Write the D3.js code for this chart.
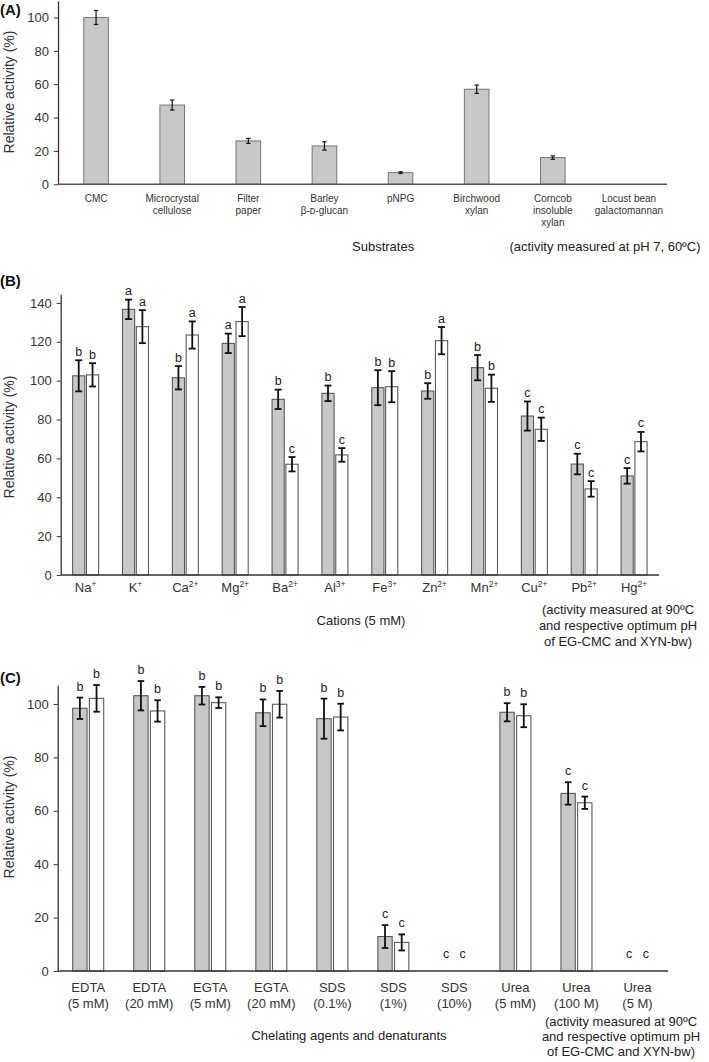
<!DOCTYPE html>
<html>
<head>
<meta charset="utf-8">
<script src="https://cdn.jsdelivr.net/npm/d3@7"></script>
<style>
  body { margin: 0; background: #fff; }
  svg { display: block; font-family: "Liberation Sans", Arial, sans-serif; }
</style>
</head>
<body>
<svg id="chart" width="709" height="1062"></svg>
<script>
// ---------- DATA ----------
const substrateLabels = [["CMC"], ["Microcrystal", "cellulose"], ["Filter", "paper"], ["Barley", "β-ᴅ-glucan"], ["pNPG"], ["Birchwood", "xylan"], ["Corncob", "insoluble", "xylan"], ["Locust bean", "galactomannan"]];
const substrateValues = [100, 47.5, 26, 23, 7, 57, 16, 0];
const substrateErrors = [4.2, 3, 1.5, 2.5, 0.5, 2.5, 1, 0];
const substrateTicks = [0, 20, 40, 60, 80, 100];

const cationNames = ["Na", "K", "Ca", "Mg", "Ba", "Al", "Fe", "Zn", "Mn", "Cu", "Pb", "Hg"];
const cationCharges = ["+", "+", "2+", "2+", "2+", "3+", "3+", "2+", "2+", "2+", "2+", "2+"];
const cationEgCmc = [102.5, 136.7, 101.5, 119.2, 90.4, 93.5, 96.4, 94.7, 106.7, 81.8, 57.1, 51];
const cationEgCmcErr = [8, 5, 6, 5, 5, 4, 9, 4, 6.5, 7.5, 5.3, 4];
const cationXyn = [103, 127.8, 123.5, 130.4, 57, 61.8, 96.9, 120.6, 96.1, 75, 44.3, 68.6];
const cationXynErr = [6, 8.5, 7, 7.5, 3.7, 3.5, 8, 7, 7, 6, 4, 5];
const cationEgCmcLetters = ["b", "a", "b", "a", "b", "b", "b", "b", "b", "c", "c", "c"];
const cationXynLetters = ["b", "a", "a", "a", "c", "c", "b", "a", "b", "c", "c", "c"];
const cationTicks = [0, 20, 40, 60, 80, 100, 120, 140];

const agentLabels = [["EDTA", "(5 mM)"], ["EDTA", "(20 mM)"], ["EGTA", "(5 mM)"], ["EGTA", "(20 mM)"], ["SDS", "(0.1%)"], ["SDS", "(1%)"], ["SDS", "(10%)"], ["Urea", "(5 mM)"], ["Urea", "(100 M)"], ["Urea", "(5 M)"]];
const agentEgCmc = [98.4, 103.1, 103.1, 96.7, 94.5, 12.9, 0, 96.9, 66.5, 0];
const agentEgCmcErr = [4, 5.5, 3.3, 5, 7.5, 4.3, 0, 3.4, 4.2, 0];
const agentXyn = [102.1, 97.4, 100.5, 99.9, 95.1, 10.7, 0, 95.6, 63, 0];
const agentXynErr = [5, 4, 2, 5, 5, 3, 0, 4.3, 2.3, 0];
const agentEgCmcLetters = ["b", "b", "b", "b", "b", "c", "c", "b", "c", "c"];
const agentXynLetters = ["b", "b", "b", "b", "b", "c", "c", "b", "c", "c"];
const agentTicks = [0, 20, 40, 60, 80, 100];

const noteLines = ["(activity measured at 90ºC", "and respective optimum pH", "of EG-CMC and XYN-bw)"];

// ---------- DRAWING ----------
const svg = d3.select("#chart");
svg.append("rect").attr("width", 709).attr("height", 1062).attr("fill", "#fff");

const GRAY = "#c8c8c8", STROKE = "#5a5a5a", TEXT = "#333";

function yAxis(g, y, ticks, x0) {
  const ax = g.append("g").attr("transform", `translate(${x0},0)`)
    .call(d3.axisLeft(y).tickValues(ticks).tickSize(4).tickPadding(5).tickSizeOuter(0));
  ax.select(".domain").attr("stroke", "#333").attr("stroke-width", 1.3);
  ax.selectAll(".tick line").attr("stroke", "#333");
  ax.selectAll(".tick text").attr("font-size", 13).attr("fill", TEXT).attr("font-family", "Liberation Sans, Arial, sans-serif");
}

function errBar(g, cx, y, v, e, cap, w) {
  if (e <= 0) return;
  const gg = g.append("g").attr("stroke", "#111").attr("stroke-width", w);
  gg.append("line").attr("x1", cx).attr("x2", cx).attr("y1", y(v + e)).attr("y2", y(v - e));
  gg.append("line").attr("x1", cx - cap).attr("x2", cx + cap).attr("y1", y(v + e)).attr("y2", y(v + e));
  gg.append("line").attr("x1", cx - cap).attr("x2", cx + cap).attr("y1", y(v - e)).attr("y2", y(v - e));
}

function yLabel(cx, cy) {
  svg.append("text").attr("transform", `translate(${cx},${cy}) rotate(-90)`)
    .attr("text-anchor", "middle").attr("font-size", 14).attr("fill", TEXT)
    .text("Relative activity (%)");
}

function panelLetter(txt, y) {
  svg.append("text").attr("x", 0).attr("y", y).attr("font-size", 15).attr("font-weight", "bold")
    .attr("fill", "#111").text(txt);
}

function note(cx, y0, lh) {
  noteLines.forEach((t, i) => svg.append("text").attr("x", cx).attr("y", y0 + i * lh)
    .attr("text-anchor", "middle").attr("font-size", 13).attr("fill", "#222").text(t));
}

// ---------- Panel A ----------
(function () {
  const g = svg.append("g");
  const x = d3.scaleBand().domain(d3.range(substrateLabels.length)).range([58, 667]);
  const y = d3.scaleLinear().domain([0, 110]).range([184.3, 0.8]);
  const bw = 24.6;
  substrateValues.forEach((v, i) => {
    const cx = x(i) + x.bandwidth() / 2;
    if (v > 0) {
      g.append("rect").attr("x", cx - bw / 2).attr("y", y(v)).attr("width", bw).attr("height", y(0) - y(v))
        .attr("fill", GRAY).attr("stroke", "#777").attr("stroke-width", 1);
    }
    errBar(g, cx, y, v, substrateErrors[i], 2.2, 1.2);
    substrateLabels[i].forEach((t, j) => g.append("text").attr("x", cx).attr("y", 201.5 + j * 12)
      .attr("text-anchor", "middle").attr("font-size", 10).attr("fill", TEXT).text(t));
  });
  yAxis(g, y, substrateTicks, 58);
  g.append("line").attr("x1", 58).attr("x2", 667).attr("y1", y(0)).attr("y2", y(0)).attr("stroke", "#555").attr("stroke-width", 1.5);
  panelLetter("(A)", 15);
  yLabel(14, 92);
  svg.append("text").attr("x", 352).attr("y", 250.5).attr("font-size", 13).attr("fill", "#222").text("Substrates");
  svg.append("text").attr("x", 605).attr("y", 250.5).attr("text-anchor", "middle").attr("font-size", 13).attr("fill", "#222")
    .text("(activity measured at pH 7, 60ºC)");
})();

// ---------- Panel B ----------
(function () {
  const g = svg.append("g");
  const x = d3.scaleBand().domain(d3.range(cationNames.length)).range([60.7, 659]);
  const y = d3.scaleLinear().domain([0, 144.5]).range([575, 294.2]);
  const sub = d3.scaleBand().domain([0, 1]).range([-13, 13]).paddingInner(0.12);
  const series = [
    { v: cationEgCmc, e: cationEgCmcErr, l: cationEgCmcLetters, fill: GRAY },
    { v: cationXyn, e: cationXynErr, l: cationXynLetters, fill: "#fff" }
  ];
  cationNames.forEach((n, i) => {
    const c = x(i) + x.bandwidth() / 2;
    series.forEach((s, k) => {
      const bx = c + sub(k);
      const bwid = sub.bandwidth();
      const v = s.v[i];
      g.append("rect").attr("x", bx).attr("y", y(v)).attr("width", bwid).attr("height", y(0) - y(v))
        .attr("fill", s.fill).attr("stroke", STROKE).attr("stroke-width", 1.1);
      errBar(g, bx + bwid / 2, y, v, s.e[i], 3.5, 1.8);
      g.append("text").attr("x", bx + bwid / 2).attr("y", y(v + s.e[i]) - 4.5).attr("text-anchor", "middle")
        .attr("font-size", 12.5).attr("fill", "#222").text(s.l[i]);
    });
    const t = g.append("text").attr("x", c).attr("y", 592).attr("text-anchor", "middle").attr("font-size", 13).attr("fill", TEXT);
    t.append("tspan").text(n);
    t.append("tspan").attr("dy", -5).attr("font-size", 8.5).text(cationCharges[i]);
  });
  yAxis(g, y, cationTicks, 60.7);
  g.append("line").attr("x1", 60.7).attr("x2", 659).attr("y1", y(0)).attr("y2", y(0)).attr("stroke", "#333").attr("stroke-width", 1.5);
  panelLetter("(B)", 286);
  yLabel(14, 437);
  svg.append("text").attr("x", 361).attr("y", 625).attr("text-anchor", "middle").attr("font-size", 13).attr("fill", "#222").text("Cations (5 mM)");
  note(618, 614, 16);
})();

// ---------- Panel C ----------
(function () {
  const g = svg.append("g");
  const x = d3.scaleBand().domain(d3.range(agentLabels.length)).range([57.7, 668]);
  const y = d3.scaleLinear().domain([0, 107]).range([971, 685.3]);
  const sub = d3.scaleBand().domain([0, 1]).range([-15.5, 15.5]).paddingInner(0.14);
  const series = [
    { v: agentEgCmc, e: agentEgCmcErr, l: agentEgCmcLetters, fill: GRAY },
    { v: agentXyn, e: agentXynErr, l: agentXynLetters, fill: "#fff" }
  ];
  agentLabels.forEach((lab, i) => {
    const c = x(i) + x.bandwidth() / 2;
    series.forEach((s, k) => {
      const bx = c + sub(k);
      const bwid = sub.bandwidth();
      const v = s.v[i];
      if (v > 0) {
        g.append("rect").attr("x", bx).attr("y", y(v)).attr("width", bwid).attr("height", y(0) - y(v))
          .attr("fill", s.fill).attr("stroke", STROKE).attr("stroke-width", 1.1);
      }
      errBar(g, bx + bwid / 2, y, v, s.e[i], 3.3, 1.8);
      const top = v > 0 ? y(v + s.e[i]) - 7 : y(0) - 13;
      g.append("text").attr("x", bx + bwid / 2).attr("y", top).attr("text-anchor", "middle")
        .attr("font-size", 12.5).attr("fill", "#222").text(s.l[i]);
    });
    lab.forEach((t, j) => g.append("text").attr("x", c).attr("y", 991.5 + j * 16)
      .attr("text-anchor", "middle").attr("font-size", 13).attr("fill", TEXT).text(t));
  });
  yAxis(g, y, agentTicks, 57.7);
  g.append("line").attr("x1", 57.7).attr("x2", 668).attr("y1", y(0)).attr("y2", y(0)).attr("stroke", "#333").attr("stroke-width", 1.5);
  panelLetter("(C)", 683);
  yLabel(14, 817);
  svg.append("text").attr("x", 349).attr("y", 1039.5).attr("text-anchor", "middle").attr("font-size", 13).attr("fill", "#222").text("Chelating agents and denaturants");
  note(621, 1026, 15);
})();
</script>
</body>
</html>
